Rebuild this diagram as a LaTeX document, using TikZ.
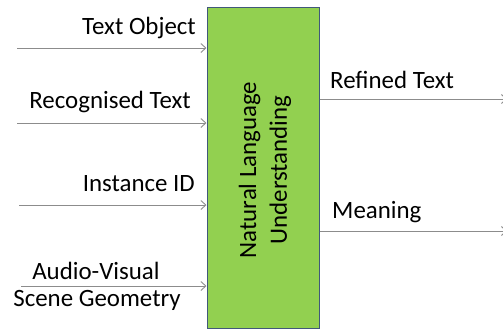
\documentclass[tikz,border=0pt]{standalone}
\usepackage{fontspec}
\setmainfont{Carlito}
\usetikzlibrary{arrows.meta}
\definecolor{boxgreen}{HTML}{92D050}
\definecolor{boxedge}{HTML}{41587A}
\definecolor{wire}{HTML}{8C8C8C}
\begin{document}
\begin{tikzpicture}[x=1bp,y=-1bp,
  flow/.style={draw=wire, line width=0.9bp, -{Straight Barb[length=5bp,width=9bp]}},
  lbl/.style={font=\fontsize{25}{30}\selectfont, inner sep=0pt},
  block/.style={draw=boxedge, line width=1bp, fill=boxgreen, minimum width=112bp, minimum height=321bp, inner sep=0pt}]
\useasboundingbox (0,0) rectangle (503,329);
\begin{scope}
\clip (0,0) rectangle (503,329);
% central block
\node[block] (nlu) at (263,167.5) {};
\node[lbl, rotate=90, align=center, font=\fontsize{25}{31}\selectfont] (nlutxt) at (265,170) {Natural Language\\Understanding};
% input anchors
\coordinate (i1) at (17,48);
\coordinate (i2) at (17,123);
\coordinate (i3) at (19,205);
\coordinate (i4) at (21,286);
\draw[flow] (i1) -- (i1 -| nlu.west);
\draw[flow] (i2) -- (i2 -| nlu.west);
\draw[flow] (i3) -- (i3 -| nlu.west);
\draw[flow] (i4) -- (i4 -| nlu.west);
% input labels
\node[lbl, anchor=east] (l1) at (196,28) {Text Object};
\node[lbl, anchor=east] (l2) at (191,102) {Recognised Text};
\node[lbl, anchor=east] (l3) at (195,184) {Instance ID};
\node[lbl] (l4a) at (96,271) {Audio-Visual};
\node[lbl] (l4b) at (97,300) {Scene Geometry};
% outputs
\coordinate (o1) at (507,99);
\coordinate (o2) at (507,231);
\draw[flow] (o1 -| nlu.east) -- (o1);
\draw[flow] (o2 -| nlu.east) -- (o2);
\node[lbl, anchor=west] (r1) at (330,80) {Refined Text};
\node[lbl, anchor=west] (r2) at (332,212) {Meaning};
\end{scope}
\end{tikzpicture}
\end{document}
